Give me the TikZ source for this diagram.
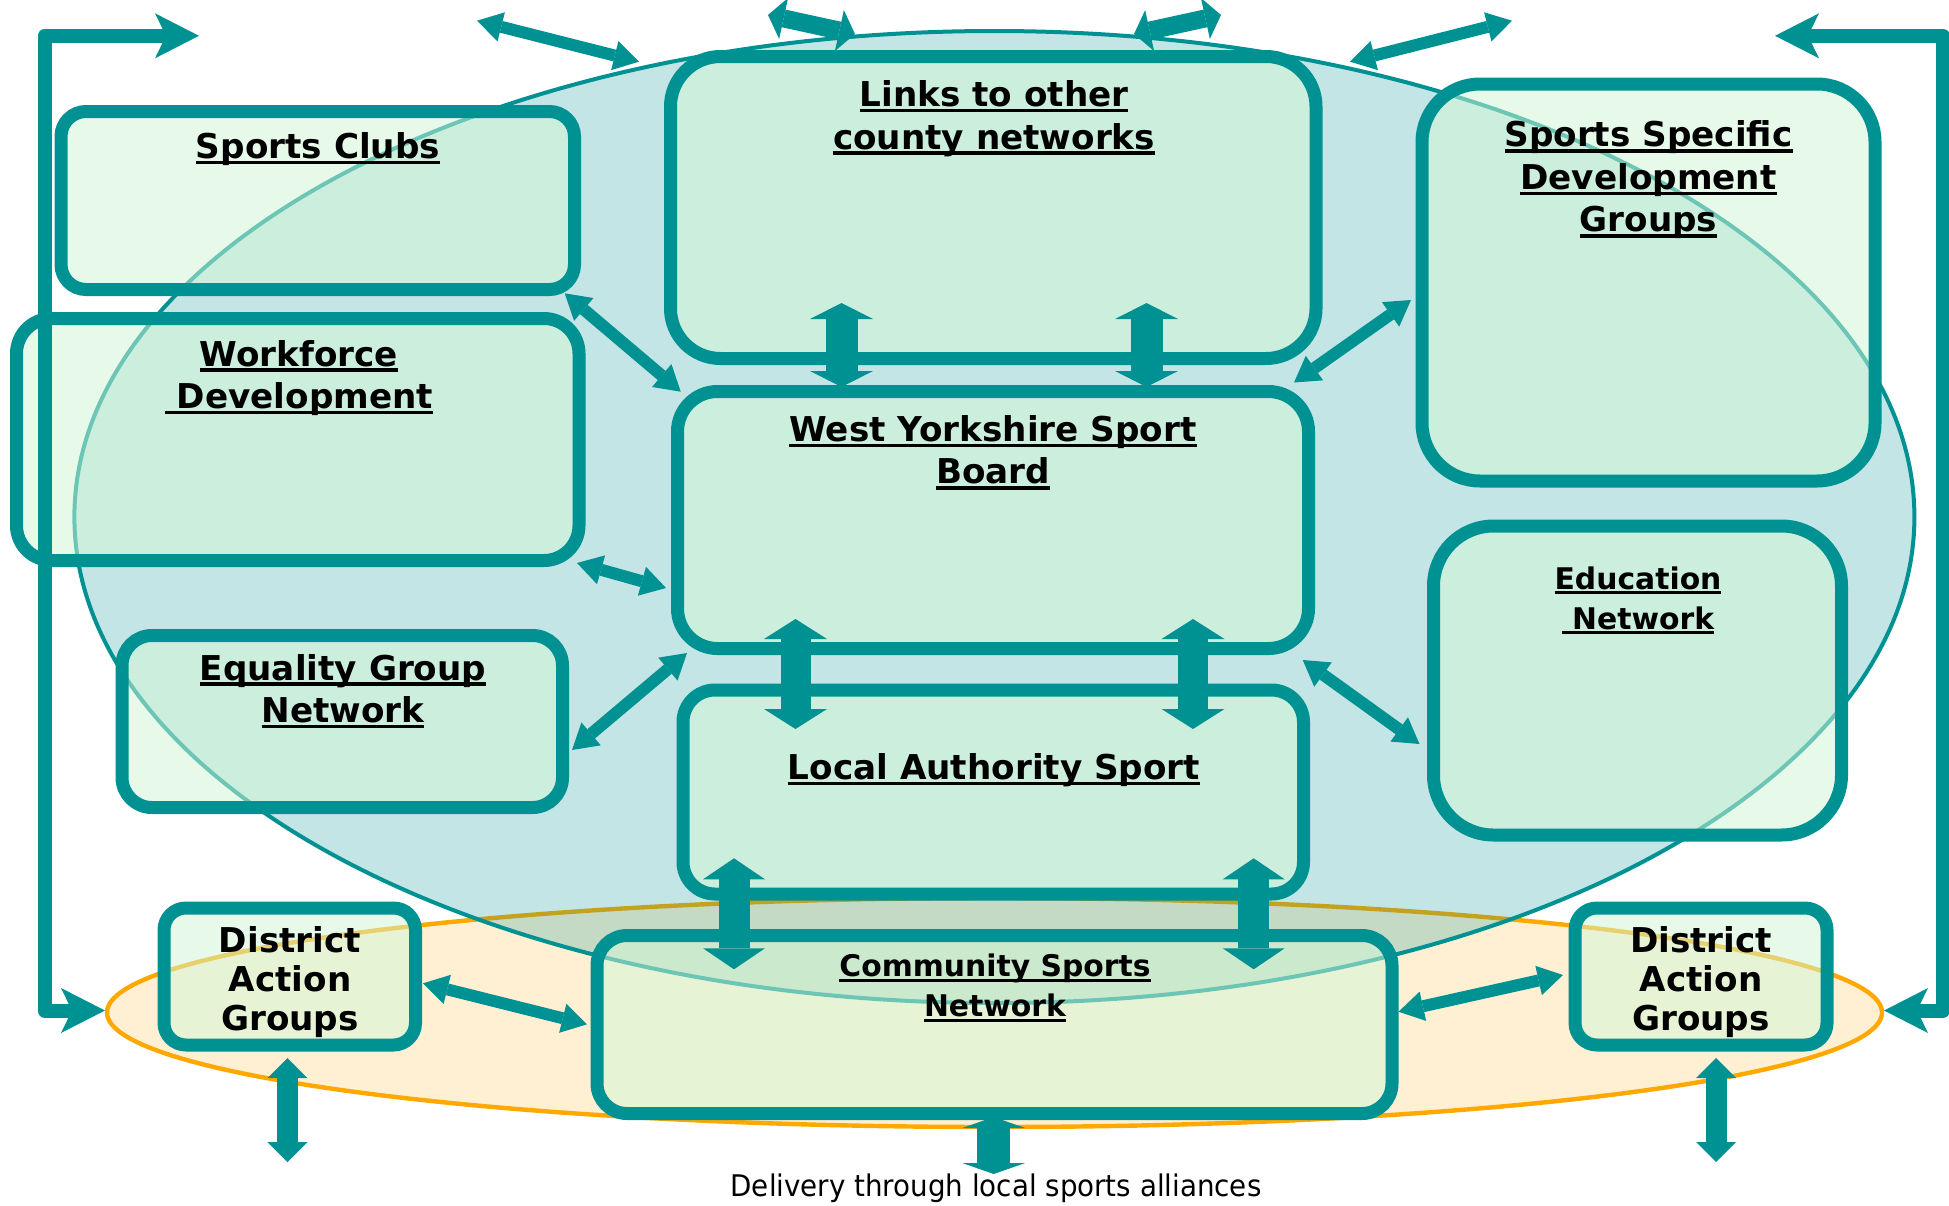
\documentclass[tikz,border=0pt]{standalone}
\usepackage{fontspec}
\setmainfont{DejaVu Sans}
\usetikzlibrary{arrows.meta}
\definecolor{tealc}{RGB}{0,146,146}
\definecolor{boxfill}{RGB}{210,247,214}
\definecolor{orangec}{RGB}{255,168,0}
\newsavebox\ulbox
\newcommand\ulin[1]{\sbox\ulbox{#1}\rlap{\rule[-0.17em]{\wd\ulbox}{0.1em}}\usebox\ulbox}
\begin{document}
\begin{tikzpicture}[x=0.5pt,y=-0.5pt,
  box/.style={rectangle, draw=tealc, line width=6.5pt, fill=boxfill, fill opacity=0.52, draw opacity=1, inner sep=0pt, outer sep=0pt},
  title/.style={font=\fontsize{17.1pt}{21.3pt}\selectfont\bfseries, align=center, anchor=base, inner sep=0pt},
  smalltitle/.style={font=\fontsize{14.9pt}{20pt}\selectfont\bfseries, align=center, anchor=base, inner sep=0pt},
  dagtitle/.style={font=\fontsize{17.1pt}{19.5pt}\selectfont\bfseries, align=center, anchor=base, inner sep=0pt},
  note/.style={font=\fontsize{14.9pt}{18pt}\selectfont, anchor=base, inner sep=0pt},
  blockarrow/.style n args={3}{draw=tealc, line width=#1, arrows={Triangle[width=#2,length=#3,line width=0pt]-Triangle[width=#2,length=#3,line width=0pt]}},
  thinarr/.style={blockarrow={6pt}{15pt}{12.5pt}},
  toparr/.style={blockarrow={9pt}{21pt}{8pt}},
  fatarrA/.style={blockarrow={16pt}{31.5pt}{8pt}},
  fatarrB/.style={blockarrow={15pt}{31.5pt}{10pt}},
  fatarrC/.style={blockarrow={15.5pt}{31pt}{10.5pt}},
  fatarrD/.style={blockarrow={16.5pt}{31.5pt}{5.5pt}},
  dagarr/.style={blockarrow={10.5pt}{20pt}{10pt}},
  elbow/.style={draw=tealc, line width=7pt, line join=round, arrows={Stealth[length=22pt,width=22.5pt,inset=5.5pt,line width=0pt]-Stealth[length=22pt,width=22.5pt,inset=5.5pt,line width=0pt]}}
]
\useasboundingbox (0,0) rectangle (1949,1205);
\fill[white] (0,0) rectangle (1949,1205);

% ellipses
\path[fill=orangec, fill opacity=0.17, draw=orangec, draw opacity=1, line width=2.2pt]
  (994.5,1012.5) ellipse [x radius=887.5, y radius=114.5];
\path[fill=tealc, fill opacity=0.23, draw=tealc, draw opacity=1, line width=2pt]
  (994.4,517) ellipse [x radius=920, y radius=486];

% boxes
\node[box, minimum width=256.75pt, minimum height=89pt, rounded corners=12.5pt] (sc) at (317.75,200.5) {};
\node[box, minimum width=322.75pt, minimum height=151pt, rounded corners=25pt] (links) at (993.25,207.5) {};
\node[box, minimum width=226.5pt, minimum height=198.5pt, rounded corners=29pt] (ssdg) at (1648.5,282.5) {};
\node[box, minimum width=281.25pt, minimum height=121pt, rounded corners=17.5pt] (wf) at (297.75,439.5) {};
\node[box, minimum width=315.5pt, minimum height=128.5pt, rounded corners=20pt] (wysb) at (993,520) {};
\node[box, minimum width=204pt, minimum height=154.5pt, rounded corners=30pt] (edu) at (1637.5,680.5) {};
\node[box, minimum width=220.25pt, minimum height=86pt, rounded corners=15pt] (eq) at (342.25,721.5) {};
\node[box, minimum width=310.25pt, minimum height=102pt, rounded corners=16pt] (las) at (993.25,792) {};
\node[box, minimum width=397.5pt, minimum height=89pt, rounded corners=15pt] (csn) at (994.5,1024.5) {};
\node[box, minimum width=125.75pt, minimum height=68.5pt, rounded corners=11pt] (dagl) at (289.75,976.5) {};
\node[box, minimum width=126pt, minimum height=68.5pt, rounded corners=11pt] (dagr) at (1701,976.5) {};

% connector end points
\coordinate (e1a) at (199,35.8);   \coordinate (e1b) at (44.5,35.8);
\coordinate (e1c) at (44.5,1010.5); \coordinate (e1d) at (105,1010.5);
\coordinate (e2a) at (1775,35.8);  \coordinate (e2b) at (1943,35.8);
\coordinate (e2c) at (1943,1010.5); \coordinate (e2d) at (1884,1010.5);
\coordinate (b1a) at (477,20.7);   \coordinate (b1b) at (639,61.7);
\coordinate (b2a) at (768,15);     \coordinate (b2b) at (855,34);
\coordinate (b3a) at (1221,15);    \coordinate (b3b) at (1134,34);
\coordinate (b4a) at (1512,20.7);  \coordinate (b4b) at (1350,61.7);
\coordinate (c1a) at (564.7,293.3); \coordinate (c1b) at (680.8,391.7);
\coordinate (c2a) at (577,563);    \coordinate (c2b) at (666,588);
\coordinate (c3a) at (572,750);    \coordinate (c3b) at (687,653);
\coordinate (c4a) at (1294,382.5); \coordinate (c4b) at (1411,300);
\coordinate (c5a) at (1302.7,660); \coordinate (c5b) at (1419.5,744);
\coordinate (c6a) at (423,983.3);  \coordinate (c6b) at (587,1024.3);
\coordinate (c7a) at (1398.5,1011.7); \coordinate (c7b) at (1563,975);
\coordinate (d1a) at (841.5,303);  \coordinate (d1b) at (841.5,387);
\coordinate (d2a) at (1146.5,303); \coordinate (d2b) at (1146.5,387);
\coordinate (d3a) at (795.5,619);  \coordinate (d3b) at (795.5,729);
\coordinate (d4a) at (1193,619);   \coordinate (d4b) at (1193,729);
\coordinate (d5a) at (734,858.3);  \coordinate (d5b) at (734,969.3);
\coordinate (d6a) at (1253.7,858.3); \coordinate (d6b) at (1253.7,969.3);
\coordinate (d7a) at (993.7,1117); \coordinate (d7b) at (993.7,1174);
\coordinate (d8a) at (287.5,1058); \coordinate (d8b) at (287.5,1162);
\coordinate (d9a) at (1716,1058);  \coordinate (d9b) at (1716,1162);

% elbow connectors
\draw[elbow] (e1a) -- (e1b) -- (e1c) -- (e1d);
\draw[elbow] (e2a) -- (e2b) -- (e2c) -- (e2d);

% top arrows
\draw[thinarr] (b1a) -- (b1b);
\draw[toparr] (b2a) -- (b2b);
\draw[toparr] (b3a) -- (b3b);
\draw[thinarr] (b4a) -- (b4b);

% diagonal arrows
\draw[thinarr] (c1a) -- (c1b);
\draw[thinarr] (c2a) -- (c2b);
\draw[thinarr] (c3a) -- (c3b);
\draw[thinarr] (c4a) -- (c4b);
\draw[thinarr] (c5a) -- (c5b);
\draw[thinarr] (c6a) -- (c6b);
\draw[thinarr] (c7a) -- (c7b);

% vertical arrows
\draw[fatarrA] (d1a) -- (d1b);
\draw[fatarrA] (d2a) -- (d2b);
\draw[fatarrB] (d3a) -- (d3b);
\draw[fatarrB] (d4a) -- (d4b);
\draw[fatarrC] (d5a) -- (d5b);
\draw[fatarrC] (d6a) -- (d6b);
\draw[fatarrD] (d7a) -- (d7b);
\draw[dagarr] (d8a) -- (d8b);
\draw[dagarr] (d9a) -- (d9b);

% titles (anchor = baseline of the last line)
\node[title] (tsc) at (318,158.3) {\ulin{Sports Clubs}};
\node[title] (tlk) at (994,149) {\ulin{Links to other}\\\ulin{county networks}};
\node[title] (tss) at (1648.5,231.9) {\ulin{Sports Specific}\\\ulin{Development}\\\ulin{Groups}};
\node[title] (twf) at (299,408.6) {\ulin{Workforce}\\\ulin{\ Development}};
\node[title] (twy) at (993,483.9) {\ulin{West Yorkshire Sport}\\\ulin{Board}};
\node[smalltitle] (ted) at (1638,629.3) {\ulin{Education}\\\ulin{\ Network}};
\node[title] (teq) at (343,722.6) {\ulin{Equality Group}\\\ulin{Network}};
\node[title] (tla) at (994,779.5) {\ulin{Local Authority Sport}};
\node[dagtitle] (tdl) at (290,1030) {District\\Action\\Groups};
\node[dagtitle] (tdr) at (1701,1030) {District\\Action\\Groups};
\node[smalltitle] (tcs) at (995,1016.7) {\ulin{Community Sports}\\\ulin{Network}};
\node[note] (tdel) at (996,1196.7) {\scalebox{0.93}[1]{Delivery through local sports alliances}};
\end{tikzpicture}
\end{document}
